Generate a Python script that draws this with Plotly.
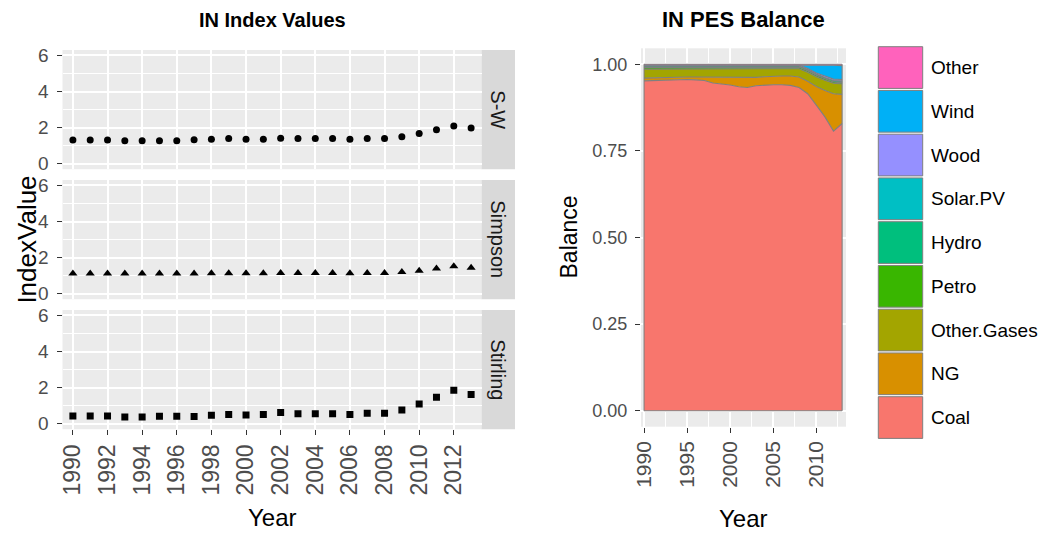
import plotly.graph_objects as go

# ---------------- data ----------------
years = [1990, 1991, 1992, 1993, 1994, 1995, 1996, 1997, 1998, 1999, 2000, 2001,
         2002, 2003, 2004, 2005, 2006, 2007, 2008, 2009, 2010, 2011, 2012, 2013]

sw_index = [1.31, 1.31, 1.32, 1.27, 1.27, 1.27, 1.27, 1.33, 1.36, 1.40, 1.36, 1.36,
            1.42, 1.40, 1.40, 1.40, 1.36, 1.40, 1.40, 1.49, 1.67, 1.89, 2.09, 1.98]
simpson_index = [1.12, 1.12, 1.12, 1.12, 1.12, 1.12, 1.12, 1.12, 1.13, 1.14, 1.14, 1.14,
                 1.15, 1.15, 1.15, 1.15, 1.14, 1.15, 1.15, 1.20, 1.27, 1.40, 1.53, 1.44]
stirling_index = [0.43, 0.43, 0.43, 0.38, 0.38, 0.42, 0.42, 0.40, 0.47, 0.51, 0.49, 0.51,
                  0.62, 0.55, 0.55, 0.55, 0.51, 0.58, 0.58, 0.77, 1.09, 1.47, 1.85, 1.62]

facet_labels = ["S-W", "Simpson", "Stirling"]
y_ticks = [0, 2, 4, 6]
x_ticks_left = [1990, 1992, 1994, 1996, 1998, 2000, 2002, 2004, 2006, 2008, 2010, 2012]

# primary energy supply shares (bottom to top of the stack)
coal = [0.952, 0.953, 0.955, 0.956, 0.956, 0.956, 0.955, 0.953, 0.946, 0.944, 0.940, 0.935,
        0.933, 0.938, 0.940, 0.941, 0.941, 0.939, 0.933, 0.915, 0.882, 0.848, 0.807, 0.829]
ng = [0.008, 0.008, 0.007, 0.007, 0.007, 0.007, 0.008, 0.010, 0.015, 0.017, 0.021, 0.026,
      0.028, 0.024, 0.024, 0.025, 0.025, 0.027, 0.030, 0.036, 0.054, 0.076, 0.108, 0.084]
other_gases = [0.026, 0.025, 0.024, 0.023, 0.023, 0.023, 0.023, 0.023, 0.025, 0.025, 0.025, 0.025,
               0.025, 0.024, 0.022, 0.020, 0.020, 0.020, 0.024, 0.026, 0.028, 0.030, 0.030, 0.030]
petro = [0.005, 0.005, 0.005, 0.005, 0.005, 0.005, 0.005, 0.005, 0.005, 0.005, 0.005, 0.005,
         0.005, 0.005, 0.005, 0.005, 0.005, 0.005, 0.004, 0.004, 0.004, 0.004, 0.004, 0.004]
hydro = [0.004, 0.004, 0.004, 0.004, 0.004, 0.004, 0.004, 0.004, 0.004, 0.004, 0.004, 0.004,
         0.004, 0.004, 0.004, 0.004, 0.004, 0.004, 0.004, 0.004, 0.004, 0.004, 0.004, 0.004]
solar_pv = [0.000, 0.000, 0.000, 0.000, 0.000, 0.000, 0.000, 0.000, 0.000, 0.000, 0.000, 0.000,
            0.000, 0.000, 0.000, 0.000, 0.000, 0.000, 0.000, 0.000, 0.000, 0.000, 0.000, 0.001]
wood = [0.003, 0.003, 0.003, 0.003, 0.003, 0.003, 0.003, 0.003, 0.003, 0.003, 0.003, 0.003,
        0.003, 0.003, 0.003, 0.003, 0.003, 0.003, 0.003, 0.003, 0.003, 0.004, 0.004, 0.004]
wind = [0.000, 0.000, 0.000, 0.000, 0.000, 0.000, 0.000, 0.000, 0.000, 0.000, 0.000, 0.000,
        0.000, 0.000, 0.000, 0.000, 0.000, 0.000, 0.001, 0.009, 0.022, 0.031, 0.040, 0.040]
other = [0.002, 0.002, 0.002, 0.002, 0.002, 0.002, 0.002, 0.002, 0.002, 0.002, 0.002, 0.002,
         0.002, 0.002, 0.002, 0.002, 0.002, 0.002, 0.001, 0.003, 0.003, 0.003, 0.003, 0.004]

sources = ["Coal", "NG", "Other.Gases", "Petro", "Hydro", "Solar.PV", "Wood", "Wind", "Other"]
source_values = [coal, ng, other_gases, petro, hydro, solar_pv, wood, wind, other]
source_colors = ["#F8766D", "#D89000", "#A3A500", "#39B600", "#00BF7D",
                 "#00BFC4", "#9590FF", "#00B0F6", "#FF62BC"]

balance_ticks = [0, 0.25, 0.5, 0.75, 1.0]
balance_ticktext = ["0.00", "0.25", "0.50", "0.75", "1.00"]
x_ticks_right = [1990, 1995, 2000, 2005, 2010]

# ---------------- layout helpers (pixel -> paper) ----------------
W, H = 1044, 534
FONT = "Liberation Sans, Arial, sans-serif"
BG = "#EBEBEB"
TICK_GREY = "#4D4D4D"


def px(x):
    return x / W


def py(y):
    return 1 - y / H


left_x0, left_x1 = 62.5, 481.5
strip_x1 = 515
rows = [(50, 169.2), (180, 299.2), (310, 429.2)]
right_x0, right_x1 = 641, 846
right_y0, right_y1 = 48.3, 426.7

fig = go.Figure()

# ---------------- faceted index values ----------------
series = [sw_index, simpson_index, stirling_index]
symbols = ["circle", "triangle-up", "square"]
sizes = [7, 8, 7]
for i, (vals, sym, sz) in enumerate(zip(series, symbols, sizes)):
    n = i + 1
    fig.add_trace(go.Scatter(
        x=years, y=vals, mode="markers",
        marker=dict(symbol=sym, size=sz, color="black"),
        xaxis=f"x{n}" if n > 1 else "x", yaxis=f"y{n}" if n > 1 else "y",
        showlegend=False,
    ))

# ---------------- stacked PES balance ----------------
for name, vals, col in zip(sources, source_values, source_colors):
    fig.add_trace(go.Scatter(
        x=years, y=vals, mode="lines", stackgroup="pes", name=name,
        line=dict(color="#7F7F7F", width=1.1), fillcolor=col,
        xaxis="x4", yaxis="y4", showlegend=False,
    ))

axis_common = dict(showline=False, zeroline=False, gridcolor="white", automargin=False,
                   tickcolor="#333333", tickwidth=1.3, ticklen=5, ticks="outside")

layout = dict(
    width=W, height=H, margin=dict(l=0, r=0, t=0, b=0, autoexpand=False),
    paper_bgcolor="white", plot_bgcolor=BG, showlegend=False,
    font=dict(family=FONT, color="black"),
)

for i, (top, bot) in enumerate(rows):
    n = i + 1
    xk = "xaxis" if n == 1 else f"xaxis{n}"
    yk = "yaxis" if n == 1 else f"yaxis{n}"
    last = n == len(rows)
    layout[xk] = dict(
        axis_common, domain=[px(left_x0), px(left_x1)], range=[1989.4, 2013.6],
        anchor="y" if n == 1 else f"y{n}",
        tickvals=x_ticks_left, ticktext=[str(v) for v in x_ticks_left],
        showticklabels=last, ticks="outside" if last else "",
        tickangle=-90, tickfont=dict(size=23, color=TICK_GREY, family=FONT),
        gridwidth=1.6,
    )
    layout[yk] = dict(
        axis_common, domain=[py(bot), py(top)], range=[-0.3, 6.3],
        anchor="x" if n == 1 else f"x{n}",
        tickvals=y_ticks, tickfont=dict(size=19, color=TICK_GREY, family=FONT),
        gridwidth=1.6, ticklabelstandoff=4,
        minor=dict(tickvals=[1, 3, 5], showgrid=True, gridcolor="white",
                   gridwidth=0.7, ticks=""),
    )

layout["xaxis4"] = dict(
    axis_common, domain=[px(right_x0), px(right_x1)], range=[1989.65, 2013.45],
    anchor="y4", tickvals=x_ticks_right, ticktext=[str(v) for v in x_ticks_right],
    tickangle=-90, tickfont=dict(size=21, color=TICK_GREY, family=FONT),
    gridwidth=1.6,
    minor=dict(tickvals=[1992.5, 1997.5, 2002.5, 2007.5, 2012.5], showgrid=True,
               gridcolor="white", gridwidth=0.7, ticks=""),
)
layout["yaxis4"] = dict(
    axis_common, domain=[py(right_y1), py(right_y0)], range=[-0.046, 1.046],
    anchor="x4", tickvals=balance_ticks, ticktext=balance_ticktext,
    tickfont=dict(size=18, color=TICK_GREY, family=FONT), gridwidth=1.6,
    ticklabelstandoff=4,
)

fig.update_layout(**layout)

shapes = []
annotations = []


def label(text, x, y, size, angle=0, color="black", xanchor="center"):
    return dict(text=text, xref="paper", yref="paper", x=px(x), y=py(y),
                xanchor=xanchor, yanchor="middle", textangle=angle,
                showarrow=False, font=dict(size=size, color=color, family=FONT))


# facet strips
for (top, bot), lab in zip(rows, facet_labels):
    shapes.append(dict(type="rect", xref="paper", yref="paper",
                       x0=px(left_x1), x1=px(strip_x1), y0=py(bot), y1=py(top),
                       fillcolor="#D9D9D9", line=dict(width=0), layer="below"))
    annotations.append(label(lab, (left_x1 + strip_x1) / 2, (top + bot) / 2, 20,
                             angle=90, color="#1A1A1A"))

# outline of the stacked area: base line and the two end edges
outline = dict(color="#7F7F7F", width=1.1)
shapes.append(dict(type="line", xref="x4", yref="y4", x0=years[0], x1=years[-1],
                   y0=0, y1=0, line=outline))
for xe in (years[0], years[-1]):
    shapes.append(dict(type="line", xref="x4", yref="y4", x0=xe, x1=xe,
                       y0=0, y1=1, line=outline))

# legend keys (top entry is the last stacked source)
key_x0, key_x1 = 878.3, 922.7
key_top, key_step, key_h = 46.7, 43.75, 41.7
for j, (name, col) in enumerate(zip(sources[::-1], source_colors[::-1])):
    y0 = key_top + j * key_step
    shapes.append(dict(type="rect", xref="paper", yref="paper",
                       x0=px(key_x0), x1=px(key_x1), y0=py(y0 + key_h), y1=py(y0),
                       fillcolor=col, line=dict(color="#7F7F7F", width=1)))
    annotations.append(label(name, 929, y0 + key_h / 2, 19, xanchor="left"))

# titles and axis titles
annotations += [
    label("<b>IN Index Values</b>", (left_x0 + left_x1) / 2, 20, 20),
    label("<b>IN PES Balance</b>", (right_x0 + right_x1) / 2, 20, 22),
    label("Year", (left_x0 + left_x1) / 2, 517, 24),
    label("Year", (right_x0 + right_x1) / 2, 518, 24),
    label("IndexValue", 27, (rows[1][0] + rows[1][1]) / 2, 26, angle=-90),
    label("Balance", 568, (right_y0 + right_y1) / 2, 23, angle=-90),
]

fig.update_layout(shapes=shapes, annotations=annotations)
fig.write_html("out.html")
